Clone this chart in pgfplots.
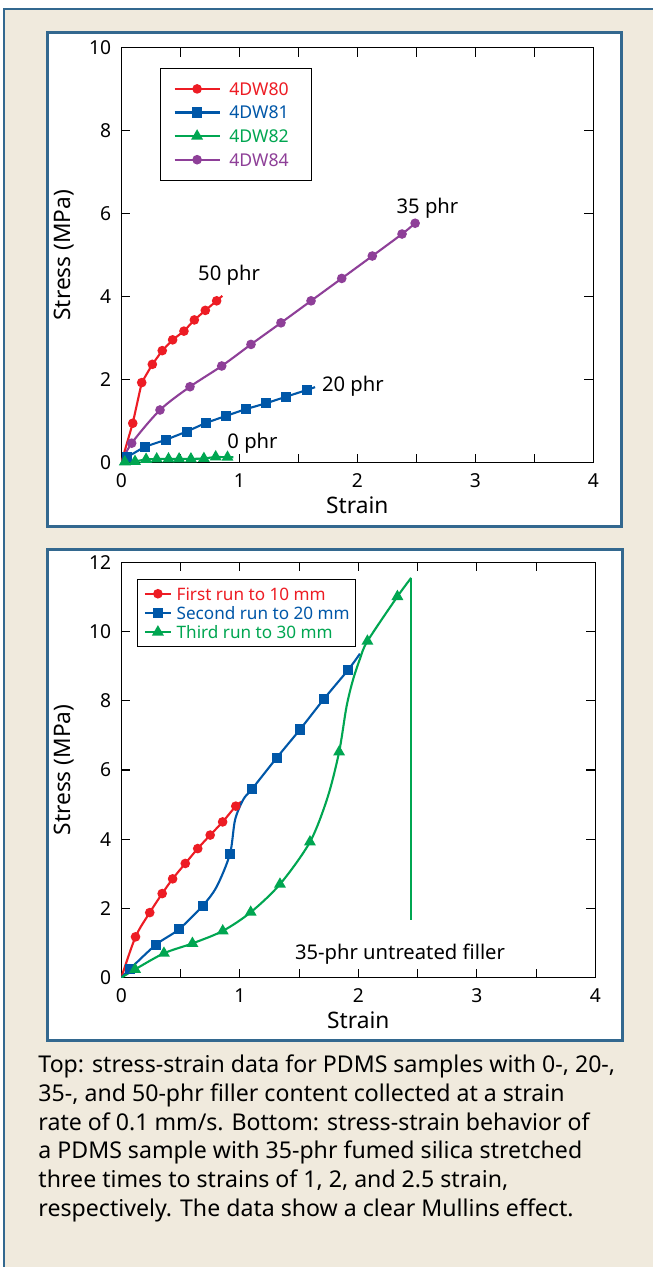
\documentclass[border=0pt]{standalone}
\usepackage{fontspec}
\setmainfont{Noto Sans}
\usepackage{pgfplots}
\pgfplotsset{compat=1.18}
\definecolor{bgbeige}{HTML}{F0EADD}
\definecolor{frameblue}{HTML}{33688F}
\definecolor{cred}{HTML}{ED1C24}
\definecolor{cblue}{HTML}{0057A8}
\definecolor{cgreen}{HTML}{00A651}
\definecolor{cpurple}{HTML}{8E3F98}
\newcommand\tickfont{\fontsize{19.3}{20}\selectfont}
\newcommand\labfont{\fontsize{22.8}{24}\selectfont}
\newcommand\legfont{\fontsize{17.7}{19}\selectfont}
\newcommand\legbfont{\fontsize{17.2}{19}\selectfont}
\newcommand\annfont{\fontsize{20.3}{22}\selectfont}
\newcommand\capfont{\fontsize{23.2}{28.7}\selectfont}
\pgfplotsset{
 leglen/.initial=45bp,
 leghalf/.initial=22.5bp,
 mystyle/.style={
  scale only axis,
  xmin=0,xmax=4,ymin=0,
  xtick={0,1,2,3,4}, minor xtick={0.5,1.5,2.5,3.5},
  tick align=inside,
  major tick length=9bp, minor tick length=9bp,
  tick style={black,line width=1.1bp},
  minor tick style={black,line width=1.1bp},
  axis line style={line width=1.2bp},
  tick label style={font=\tickfont, inner sep=0pt},
  /pgf/number format/assume math mode=true,
  xticklabel shift=10.5bp, yticklabel shift=10bp,
  xlabel={Strain}, ylabel={Stress (MPa)},
  label style={font=\labfont},
  legend cell align=left,
  legend image code/.code={\draw[##1, mark indices={2}] plot coordinates {(0bp,0bp) (\pgfkeysvalueof{/pgfplots/leghalf},0bp) (\pgfkeysvalueof{/pgfplots/leglen},0bp)};},
 },
}
\begin{document}
\begin{tikzpicture}
\begin{scope}[x=1bp,y=1bp]
\useasboundingbox (0,0) rectangle (653,1267);
\fill[white] (0,0) rectangle (653,1267);
\fill[bgbeige] (4,0) rectangle (653,1258);
\draw[frameblue, line width=2bp] (4,0) -- (4,1258) -- (653,1258);
\draw[frameblue, line width=3bp, fill=white] (47,740.5) rectangle (621.5,1234.5);
\draw[frameblue, line width=3bp, fill=white] (47,226) rectangle (622,717.5);
\node[font=\capfont, anchor=base west, inner sep=0pt] at (38.3,194.3) {Top: stress-strain data for PDMS samples with 0-, 20-,};
\node[font=\capfont, anchor=base west, inner sep=0pt] at (38.3,165.6) {35-, and 50-phr filler content collected at a strain};
\node[font=\capfont, anchor=base west, inner sep=0pt] at (38.3,136.9) {rate of 0.1 mm/s. Bottom: stress-strain behavior of};
\node[font=\capfont, anchor=base west, inner sep=0pt] at (38.3,108.2) {a PDMS sample with 35-phr fumed silica stretched};
\node[font=\capfont, anchor=base west, inner sep=0pt] at (38.3,79.5) {three times to strains of 1, 2, and 2.5 strain,};
\node[font=\capfont, anchor=base west, inner sep=0pt] at (38.3,50.8) {respectively. The data show a clear Mullins effect.};
\end{scope}

% ---------------- top plot ----------------
\begin{axis}[mystyle,
  at={(121.3bp,804.3bp)}, anchor=south west,
  width=472bp, height=415bp,
  ymax=10, ytick={0,2,4,6,8,10},
  xlabel style={at={(axis description cs:0.5,-0.1036)}, anchor=center},
  ylabel style={at={(axis description cs:-0.122,0.5)}, anchor=center},
  legend style={at={(0.082,0.951)}, anchor=north west, draw=black, line width=1.1bp,
    inner xsep=13bp, inner ysep=14bp, row sep=10.9bp, column sep=8.7bp, font=\legfont,
    nodes={inner sep=0pt, text height=12.7bp, text depth=0bp}},
]
\addplot[cred, line width=2.1bp, mark=*, mark size=3.7bp, mark options={solid}, mark indices={2,3,4,5,6,7,8,9,10}]
 coordinates {(0,0) (0.097,0.95) (0.173,1.93) (0.263,2.37) (0.347,2.70) (0.435,2.96) (0.531,3.17) (0.619,3.44) (0.712,3.67) (0.808,3.90) (0.856,4.02)};
\addlegendentry{\textcolor{cred}{4DW80}\hspace*{10bp}}
\addplot[cblue, line width=2.1bp, mark=square*, mark size=4bp, mark options={solid}, mark indices={2,3,4,5,6,7,8,9,10,11}]
 coordinates {(0,0) (0.046,0.13) (0.20,0.385) (0.376,0.55) (0.554,0.75) (0.718,0.96) (0.885,1.125) (1.054,1.29) (1.226,1.43) (1.396,1.59) (1.571,1.75) (1.642,1.82)};
\addlegendentry{\textcolor{cblue}{4DW81}\hspace*{10bp}}
\addplot[cgreen, line width=2.1bp, mark=triangle*, mark size=4.8bp, mark options={solid}, mark indices={2,3,4,5,6,7,8,9,10,11}]
 coordinates {(0,0) (0.03,0.02) (0.116,0.03) (0.21,0.08) (0.30,0.09) (0.40,0.09) (0.49,0.09) (0.59,0.09) (0.70,0.10) (0.80,0.14) (0.90,0.13) (0.95,0.13)};
\addlegendentry{\textcolor{cgreen}{4DW82}\hspace*{10bp}}
\addplot[cpurple, line width=2.1bp, smooth, mark=*, mark size=3.7bp, mark options={solid}, mark indices={2,3,4,5,6,7,8,9,10,11,12}]
 coordinates {(0,0) (0.088,0.47) (0.328,1.27) (0.582,1.83) (0.851,2.33) (1.099,2.85) (1.353,3.37) (1.608,3.90) (1.868,4.44) (2.127,4.98) (2.379,5.51) (2.49,5.77)};
\addlegendentry{\textcolor{cpurple}{4DW84}\hspace*{10bp}}
\node[font=\annfont] at (axis cs:0.913,4.52) {50 phr};
\node[font=\annfont] at (axis cs:2.595,6.12) {35 phr};
\node[font=\annfont] at (axis cs:1.963,1.85) {20 phr};
\node[font=\annfont] at (axis cs:1.112,0.48) {0 phr};
\end{axis}

% ---------------- bottom plot ----------------
\pgfplotsset{leglen=26bp, leghalf=13bp}
\begin{axis}[mystyle,
  at={(121.3bp,289.3bp)}, anchor=south west,
  width=474bp, height=415.4bp,
  ymax=12, ytick={0,2,4,6,8,10,12},
  xlabel style={at={(axis description cs:0.5,-0.1025)}, anchor=center},
  ylabel style={at={(axis description cs:-0.1215,0.5)}, anchor=center},
  legend style={at={(0.0338,0.96)}, anchor=north west, draw=black, line width=1.1bp,
    inner xsep=6bp, inner ysep=7.8bp, row sep=6.15bp, column sep=4.7bp, font=\legbfont,
    nodes={inner sep=0pt, text height=13bp, text depth=0bp}},
]
\addplot[cred, line width=2.1bp, smooth, mark=*, mark size=3.7bp, mark options={solid}, mark indices={2,3,4,5,6,7,8,9,10}]
 coordinates {(0,0) (0.12,1.18) (0.24,1.88) (0.345,2.43) (0.433,2.855) (0.54,3.30) (0.645,3.73) (0.75,4.12) (0.855,4.5) (0.966,4.955) (1.013,5.08)};
\addlegendentry{\textcolor{cred}{First run to 10 mm}}
\addplot[cblue, line width=2.1bp, smooth, mark=square*, mark size=4bp, mark options={solid}, mark indices={2,3,4,5,7,10,11,12,13,14}]
 coordinates {(0,0) (0.073,0.25) (0.293,0.955) (0.487,1.40) (0.687,2.08) (0.805,2.63) (0.917,3.575) (0.96,4.56) (1.03,5.15) (1.103,5.45) (1.311,6.35) (1.508,7.17) (1.712,8.06) (1.916,8.90) (2.014,9.36)};
\addlegendentry{\textcolor{cblue}{Second run to 20 mm}}
\addplot[cgreen, line width=2.1bp, smooth, mark=triangle*, mark size=4.8bp, mark options={solid}, mark indices={2,3,4,5,6,7,8,10,14,15}]
 coordinates {(0,0) (0.116,0.24) (0.36,0.705) (0.60,0.99) (0.856,1.35) (1.092,1.89) (1.339,2.70) (1.592,3.92) (1.74,5.2) (1.838,6.52) (1.90,7.82) (1.954,8.59) (2.014,9.21) (2.077,9.72) (2.33,11.01) (2.446,11.55)};
\addlegendentry{\textcolor{cgreen}{Third run to 30 mm}}
\addplot[cgreen, line width=2.1bp, forget plot] coordinates {(2.446,11.55) (2.446,1.68)};
\node[font=\annfont] at (axis cs:2.352,0.685) {35-phr untreated filler};
\end{axis}
\end{tikzpicture}
\end{document}
